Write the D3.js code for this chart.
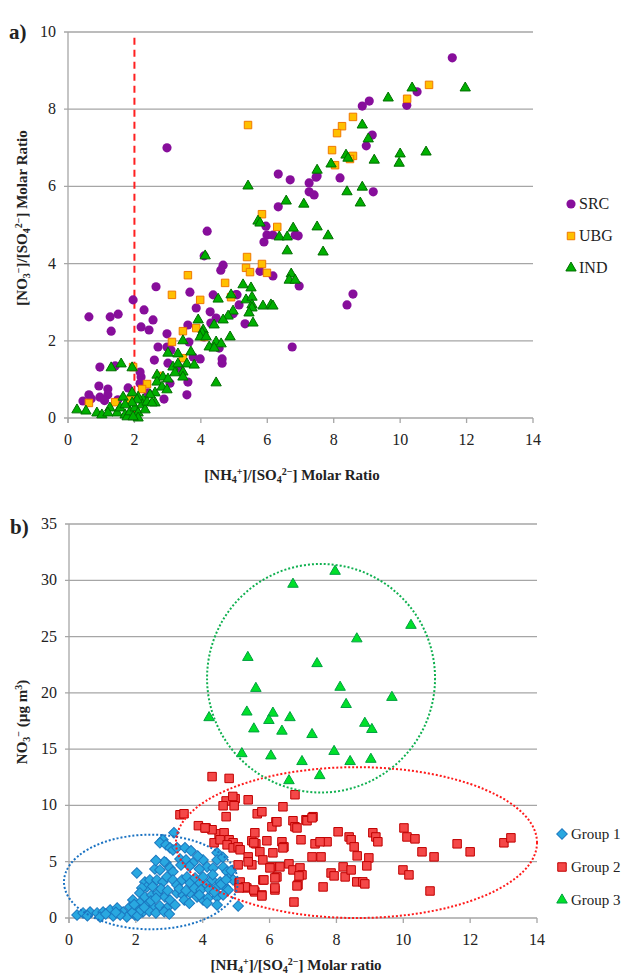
<!DOCTYPE html>
<html>
<head>
<meta charset="utf-8">
<script src="https://cdn.jsdelivr.net/npm/d3@7"></script>
<style>
  body { margin: 0; background: #fff; }
  svg text { font-family: "Liberation Serif", "DejaVu Serif", "Times New Roman", serif; fill: #222; }
</style>
</head>
<body>
<svg id="chart" width="623" height="978" font-family="Liberation Serif, DejaVu Serif, serif"></svg>
<script>
// ---- panel a data: [NH4+]/[SO4 2-] vs [NO3-]/[SO4 2-]
var srcPts = [[2.98,7.0],[4.19,4.84],[6.33,6.32],[6.69,6.17],[7.26,6.09],[7.26,5.86],[7.41,5.78],[6.33,5.47],[5.96,4.97],[6.84,4.74],[5.99,4.74],[6.17,4.74],[7.5,6.27],[11.57,9.33],[10.51,8.45],[10.2,8.1],[8.86,8.08],[9.07,8.21],[9.16,7.33],[8.98,7.05],[7.47,6.24],[8.19,6.22],[9.19,5.86],[5.9,4.56],[6.93,4.72],[6.17,3.68],[6.96,3.42],[8.58,3.21],[8.4,2.93],[6.75,1.84],[5.78,3.8],[4.1,4.2],[4.67,3.96],[4.6,3.83],[2.65,3.4],[3.67,3.26],[1.96,3.06],[4.37,3.19],[4.28,2.75],[3.86,2.85],[4.46,2.59],[4.3,2.46],[5.15,2.93],[5.33,2.44],[5.09,3.19],[0.63,2.62],[1.27,2.62],[1.51,2.69],[1.3,2.25],[2.29,2.8],[2.2,2.36],[2.44,2.28],[2.56,2.54],[2.98,2.18],[2.71,1.84],[2.98,1.84],[3.61,2.41],[3.64,1.97],[3.1,1.76],[3.01,1.42],[3.98,1.53],[3.77,1.58],[4.64,1.53],[4.64,1.42],[4.1,2.1],[4.55,1.81],[0.96,1.32],[1.42,1.35],[0.93,0.83],[1.2,0.75],[0.96,0.54],[0.63,0.6],[0.45,0.44],[1.81,0.78],[2.2,1.06],[2.17,0.9],[3.61,0.93],[3.58,0.6],[2.89,0.49],[3.07,0.9],[2.17,1.19],[1.2,0.6],[1.5,0.47],[2.41,0.65],[5.06,3.2],[4.97,2.7],[3.35,1.3],[2.6,1.5],[1.1,0.45],[0.7,0.5]];
var ubgPts = [[5.42,7.59],[5.84,5.28],[6.3,4.95],[10.87,8.63],[10.21,8.27],[8.58,7.8],[8.25,7.56],[8.1,7.38],[7.95,6.94],[8.58,6.79],[8.49,6.71],[8.04,6.55],[5.84,3.99],[5.99,3.76],[5.39,4.17],[5.36,3.89],[5.48,3.78],[3.61,3.7],[4.73,3.5],[4.91,3.13],[3.13,3.19],[3.98,3.06],[3.46,2.25],[3.86,2.33],[3.13,1.97],[4.1,2.1],[3.46,1.55],[1.96,1.32],[2.38,0.88],[2.23,0.75],[2.74,1.09],[0.63,0.39],[1.42,0.41],[1.87,0.47]];
var indPts = [[5.42,6.01],[6.57,5.62],[7.1,5.54],[5.72,5.1],[6.78,4.92],[7.5,4.95],[7.5,6.42],[6.36,4.69],[6.6,4.69],[10.36,8.55],[9.64,8.29],[11.96,8.55],[8.86,7.59],[9.04,7.23],[8.37,6.81],[8.43,6.73],[7.92,6.58],[9.22,6.68],[10.0,6.84],[9.97,6.6],[10.78,6.89],[8.4,5.86],[8.86,5.98],[8.8,5.57],[7.83,4.72],[6.6,4.33],[7.68,4.3],[6.72,3.73],[6.66,3.57],[6.84,3.57],[5.87,2.9],[6.11,2.93],[6.17,2.9],[5.78,5.05],[4.13,4.2],[5.27,3.45],[5.51,3.37],[4.91,3.19],[4.52,3.08],[5.36,3.06],[5.54,3.13],[5.54,2.93],[5.54,2.85],[4.97,2.77],[4.82,2.64],[4.67,2.54],[5.45,2.72],[5.57,2.46],[4.4,2.41],[3.92,2.54],[4.07,2.28],[4.04,2.2],[3.98,2.1],[4.16,2.1],[4.88,2.1],[4.46,1.97],[4.61,1.92],[4.25,1.84],[4.4,1.81],[3.46,2.0],[3.01,1.68],[3.31,1.66],[3.7,1.71],[3.16,1.32],[3.31,1.4],[3.58,1.4],[3.8,1.37],[3.46,1.19],[3.22,1.17],[3.46,1.06],[2.68,1.11],[2.86,1.06],[3.01,1.01],[2.68,0.93],[2.83,0.8],[2.98,0.73],[2.62,0.65],[2.47,0.6],[2.62,0.39],[2.26,0.47],[2.11,0.54],[1.93,0.65],[1.66,0.54],[1.6,1.4],[1.3,1.3],[1.93,1.3],[4.46,0.91],[0.27,0.21],[0.54,0.18],[0.87,0.13],[1.02,0.08],[1.26,0.26],[1.2,0.13],[1.48,0.13],[1.57,0.26],[1.72,0.08],[1.78,0.03],[1.87,0.16],[2.02,0.26],[2.11,0.13],[2.23,0.34],[2.32,0.21],[2.38,0.41],[2.53,0.39],[2.08,0.47],[1.93,0.39],[1.72,0.34],[2.11,0.0],[1.96,0.03]];
var seriesA = ["SRC", "UBG", "IND"];
var xTicksA = [0, 2, 4, 6, 8, 10, 12, 14];
var yTicksA = [0, 2, 4, 6, 8, 10];
var thresholdX = 2;

// ---- panel b data: [NH4+]/[SO4 2-] vs NO3- (ug m-3)
var group1 = [[3.14,7.57],[2.81,6.95],[2.72,6.68],[2.9,6.5],[3.02,6.23],[3.11,6.05],[3.23,6.23],[3.47,6.23],[3.65,5.97],[3.32,5.25],[3.5,5.16],[3.71,4.9],[4.01,5.16],[4.13,4.54],[4.43,5.79],[4.43,5.16],[4.31,4.45],[4.61,4.54],[4.73,4.1],[4.82,3.65],[4.91,3.38],[5.06,1.07],[2.03,4.0],[2.57,4.36],[2.72,4.27],[2.9,4.9],[3.02,4.45],[3.11,4.1],[2.27,3.2],[2.33,2.76],[2.18,2.67],[2.42,3.38],[2.63,3.38],[2.81,3.2],[2.93,3.65],[3.11,3.38],[3.23,2.94],[3.38,3.38],[3.53,3.65],[3.62,3.12],[3.77,3.56],[3.92,3.12],[4.01,3.65],[4.13,2.94],[4.28,3.38],[4.43,2.76],[4.52,3.2],[4.67,2.76],[4.76,2.49],[3.23,2.23],[3.41,2.05],[3.62,2.23],[3.83,1.87],[4.01,1.6],[4.16,1.78],[4.43,1.87],[4.61,2.05],[4.13,1.34],[4.43,1.16],[2.12,2.23],[2.27,1.87],[2.48,2.05],[2.66,2.23],[2.87,1.87],[3.02,1.6],[3.17,1.16],[1.91,1.6],[2.12,1.34],[2.33,1.16],[2.51,0.98],[2.72,1.07],[2.93,0.89],[0.24,0.27],[0.42,0.45],[0.63,0.53],[0.84,0.45],[1.02,0.53],[1.23,0.71],[1.44,0.89],[1.62,0.53],[1.82,0.98],[2.03,0.89],[2.21,0.53],[0.93,0.09],[1.32,0.18],[1.73,0.09],[1.97,0.27],[1.53,0.27],[0.55,0.2],[1.1,0.35],[1.4,0.5],[1.9,0.5],[2.05,0.2],[2.15,0.7],[2.4,0.6],[2.6,0.45],[2.85,0.55],[3.0,0.35],[2.25,0.95],[1.95,1.2],[2.45,1.5],[2.6,1.75],[2.75,2.6],[2.95,2.45],[3.3,2.6],[3.5,2.45],[3.75,2.65],[3.95,2.5],[4.2,2.55],[4.35,2.3],[4.55,3.0],[4.7,3.4],[3.45,1.6],[3.6,1.3],[3.9,2.05],[2.5,2.8],[4.85,4.2],[4.3,3.85],[3.9,4.35],[3.6,4.6],[3.35,4.7],[2.85,5.0],[4.6,5.4],[3.85,5.5],[2.6,5.1]];
var group2 = [[4.28,12.56],[4.79,12.4],[6.76,10.95],[4.7,10.4],[4.97,10.6],[4.61,9.97],[4.94,9.97],[5.36,10.5],[4.9,10.8],[4.7,9.0],[5.63,9.26],[5.77,9.44],[6.4,9.88],[3.32,9.17],[3.44,9.26],[3.87,8.2],[4.1,8.0],[6.19,8.55],[6.7,8.64],[6.76,8.1],[7.09,8.73],[7.3,9.0],[4.49,7.48],[4.64,7.57],[4.28,7.84],[4.34,6.68],[4.79,6.95],[4.91,6.68],[4.52,6.95],[4.73,6.5],[4.91,6.23],[5.06,6.32],[5.12,6.06],[5.47,6.86],[5.59,6.59],[5.56,7.57],[5.92,6.86],[5.71,5.88],[5.36,5.43],[6.1,5.79],[6.37,6.77],[6.43,6.32],[6.4,6.23],[6.94,6.95],[7.36,6.59],[7.72,6.77],[7.51,6.77],[7.27,5.43],[7.54,5.43],[5.06,4.72],[5.47,4.72],[5.8,5.16],[5.36,4.99],[6.07,4.54],[6.31,4.54],[6.01,4.45],[6.58,4.81],[6.7,4.27],[6.91,4.45],[6.97,3.83],[6.88,3.74],[6.85,2.94],[6.82,2.85],[6.22,3.65],[6.16,3.56],[5.8,3.38],[5.83,3.38],[6.16,2.49],[6.16,2.67],[5.09,3.12],[5.12,3.2],[5.32,2.67],[5.27,2.76],[5.09,2.67],[5.56,2.32],[5.53,2.49],[5.77,2.05],[5.77,1.96],[6.73,1.42],[6.07,8.1],[6.22,8.55],[6.82,8.0],[5.53,6.68],[7.12,8.64],[7.27,8.9],[8.05,7.66],[8.38,7.2],[8.44,6.95],[8.53,6.32],[8.62,5.52],[9.09,7.57],[9.18,7.2],[9.24,6.77],[8.97,5.34],[8.91,4.63],[7.6,2.76],[7.84,4.0],[7.93,3.74],[8.2,4.54],[8.26,3.65],[8.44,4.27],[8.61,3.21],[8.79,3.21],[8.85,3.03],[10.02,8.0],[10.11,7.2],[10.35,7.03],[10.56,5.88],[10.92,5.43],[9.99,4.27],[10.17,3.83],[10.8,2.4],[11.61,6.59],[12.0,5.88],[13.01,6.68],[13.22,7.12],[4.07,8.0]];
var group3 = [[7.96,30.8],[6.7,29.65],[10.23,26.0],[8.61,24.8],[5.35,23.15],[7.42,22.6],[5.59,20.4],[8.11,20.5],[9.66,19.6],[8.29,18.97],[4.19,17.8],[5.32,18.3],[6.1,18.2],[5.98,17.55],[6.61,17.8],[5.53,16.8],[6.37,16.6],[7.27,16.3],[8.85,17.3],[9.06,16.75],[5.17,14.6],[6.04,14.4],[7.93,14.8],[6.97,13.9],[8.41,13.9],[9.03,14.1],[6.58,12.2],[7.5,12.65]];
var seriesB = ["Group 1", "Group 2", "Group 3"];
var xTicksB = [0, 2, 4, 6, 8, 10, 12, 14];
var yTicksB = [0, 5, 10, 15, 20, 25, 30, 35];
// cluster ellipses (data units): centre x, centre y, radius x, radius y
var ellCx = [2.45, 8.6, 7.54];
var ellCy = [3.2, 6.7, 21.3];
var ellRx = [2.6, 5.4, 3.41];
var ellRy = [4.2, 6.7, 10.15];

var svg = d3.select("#chart");
var gridCol = "#a6a6a6";
var serif = "'Liberation Serif', 'DejaVu Serif', serif";

// ===== helpers
function drawFrame(x, y, xTicks, yTicks) {
    var x0 = x.range()[0], x1 = x.range()[1];
    var y0 = y.range()[0], y1 = y.range()[1];
    var g = svg.append("g");
    g.selectAll("line.grid").data(yTicks.filter(function(d) { return d > 0; }))
        .enter().append("line")
        .attr("x1", x0 - 4).attr("x2", x1)
        .attr("y1", function(d) { return y(d); }).attr("y2", function(d) { return y(d); })
        .style("stroke", gridCol).style("stroke-width", 1.3);
    // axis lines
    g.append("line").attr("x1", x0).attr("x2", x0).attr("y1", y1).attr("y2", y0 + 5)
        .style("stroke", gridCol).style("stroke-width", 1.3);
    g.append("line").attr("x1", x0 - 4).attr("x2", x1).attr("y1", y0).attr("y2", y0)
        .style("stroke", gridCol).style("stroke-width", 1.3);
    g.selectAll("line.xt").data(xTicks).enter().append("line")
        .attr("x1", function(d) { return x(d); }).attr("x2", function(d) { return x(d); })
        .attr("y1", y0).attr("y2", y0 + 5)
        .style("stroke", gridCol).style("stroke-width", 1.3);
    g.selectAll("text.xl").data(xTicks).enter().append("text")
        .attr("x", function(d) { return x(d); })
        .attr("y", y0 + 27)
        .attr("text-anchor", "middle")
        .style("font-family", serif)
        .style("font-size", "16px")
        .text(function(d) { return d; });
    g.selectAll("text.yl").data(yTicks).enter().append("text")
        .attr("x", x0 - 12)
        .attr("y", function(d) { return y(d) + 5; })
        .attr("text-anchor", "end")
        .style("font-family", serif)
        .style("font-size", "16px")
        .text(function(d) { return d; });
}

// parts: [text, "sub"|"sup"|null] ; shifts done with dy so nothing drops too far
function richText(sel, parts) {
    var shift = 0;
    parts.forEach(function(p) {
        var want = p[1] == "sub" ? 3 : (p[1] == "sup" ? -5 : 0);
        var t = sel.append("tspan").text(p[0]).attr("dy", want - shift);
        shift = want;
        if (p[1]) t.style("font-size", "10px");
    });
}

var symCircle = d3.symbol().type(d3.symbolCircle).size(66)();
var symSquare = d3.symbol().type(d3.symbolSquare).size(56)();
var symTri = d3.symbol().type(d3.symbolTriangle).size(46)();
var symSquareB = d3.symbol().type(d3.symbolSquare).size(72)();
var symDiamond = d3.symbol().type(d3.symbolSquare).size(56)();
var symTriB = d3.symbol().type(d3.symbolTriangle).size(48)();

function drawPoints(pts, x, y, path, fill, stroke, rot) {
    svg.append("g").selectAll("path").data(pts).enter().append("path")
        .attr("d", path)
        .attr("transform", function(d) {
            return "translate(" + x(d[0]) + "," + y(d[1]) + ")" + (rot ? " rotate(" + rot + ")" : "");
        })
        .style("fill", fill)
        .style("stroke", stroke || "none")
        .style("stroke-width", 1);
}

// ===== panel a
var xA = d3.scaleLinear().domain([0, 14]).range([68, 533]);
var yA = d3.scaleLinear().domain([0, 10]).range([418, 32]);
drawFrame(xA, yA, xTicksA, yTicksA);

svg.append("line")
    .attr("x1", xA(thresholdX)).attr("x2", xA(thresholdX))
    .attr("y1", yA(9.85)).attr("y2", yA(0))
    .style("stroke", "#ff2020").style("stroke-width", 2)
    .style("stroke-dasharray", "7,5");

var colA = {
    SRC: { fill: "#870e9b", stroke: null, path: symCircle },
    UBG: { fill: "#ffc000", stroke: "#f07800", path: symSquare },
    IND: { fill: "#00b000", stroke: "#006e00", path: symTri }
};
drawPoints(srcPts, xA, yA, colA.SRC.path, colA.SRC.fill, colA.SRC.stroke);
drawPoints(ubgPts, xA, yA, colA.UBG.path, colA.UBG.fill, colA.UBG.stroke);
drawPoints(indPts, xA, yA, colA.IND.path, colA.IND.fill, colA.IND.stroke);

var legA = svg.append("g").selectAll("g").data(seriesA).enter().append("g")
    .attr("transform", function(d, i) { return "translate(571," + (204 + i * 32) + ")"; });
legA.append("path").attr("d", function(d) { return colA[d].path; })
    .style("fill", function(d) { return colA[d].fill; })
    .style("stroke", function(d) { return colA[d].stroke || "none"; });
legA.append("text").attr("x", 8).attr("y", 5)
    .style("font-family", serif).style("font-size", "16px")
    .text(function(d) { return d; });

svg.append("text").attr("x", 9).attr("y", 39)
    .style("font-family", serif)
    .style("font-size", "21px").style("font-weight", "bold").text("a)");

var xtA = svg.append("text").attr("x", 292).attr("y", 480).attr("text-anchor", "middle")
    .style("font-family", serif)
    .style("font-size", "15px").style("font-weight", "bold");
richText(xtA, [["[NH"], ["4", "sub"], ["+", "sup"], ["]/[SO"], ["4", "sub"], ["2\u2212", "sup"], ["] Molar Ratio", null]]);

var ytA = svg.append("text").attr("transform", "translate(27,218) rotate(-90)")
    .attr("text-anchor", "middle")
    .style("font-family", serif)
    .style("font-size", "15px").style("font-weight", "bold");
richText(ytA, [["[NO"], ["3", "sub"], ["\u2212", "sup"], ["]/[SO"], ["4", "sub"], ["2\u2212", "sup"], ["] Molar Ratio", null]]);

// ===== panel b
var xB = d3.scaleLinear().domain([0, 14]).range([69, 537]);
var yB = d3.scaleLinear().domain([0, 35]).range([918, 524]);
drawFrame(xB, yB, xTicksB, yTicksB);

var colB = {
    "Group 1": { fill: "#29a8e0", stroke: "#1b78c0", path: symDiamond, rot: 45 },
    "Group 2": { fill: "#f44848", stroke: "#c00000", path: symSquareB, rot: 0 },
    "Group 3": { fill: "#00e02a", stroke: "#00a040", path: symTriB, rot: 0 }
};
drawPoints(group1, xB, yB, colB["Group 1"].path, colB["Group 1"].fill, colB["Group 1"].stroke, 45);
drawPoints(group2, xB, yB, colB["Group 2"].path, colB["Group 2"].fill, colB["Group 2"].stroke);
drawPoints(group3, xB, yB, colB["Group 3"].path, colB["Group 3"].fill, colB["Group 3"].stroke);

var ellCol = ["#1a72c2", "#ff1a1a", "#10b050"];
svg.append("g").selectAll("ellipse").data(seriesB).enter().append("ellipse")
    .attr("cx", function(d, i) { return xB(ellCx[i]); })
    .attr("cy", function(d, i) { return yB(ellCy[i]); })
    .attr("rx", function(d, i) { return xB(ellRx[i]) - xB(0); })
    .attr("ry", function(d, i) { return yB(0) - yB(ellRy[i]); })
    .style("fill", "none")
    .style("stroke", function(d, i) { return ellCol[i]; })
    .style("stroke-width", 2)
    .style("stroke-dasharray", "2,2");

var legB = svg.append("g").selectAll("g").data(seriesB).enter().append("g")
    .attr("transform", function(d, i) { return "translate(562," + (834 + i * 33) + ")"; });
legB.append("path").attr("d", function(d) { return colB[d].path; })
    .attr("transform", function(d) { return "rotate(" + colB[d].rot + ")"; })
    .style("fill", function(d) { return colB[d].fill; })
    .style("stroke", function(d) { return colB[d].stroke; });
legB.append("text").attr("x", 9).attr("y", 5)
    .style("font-family", serif).style("font-size", "15px")
    .text(function(d) { return d; });

svg.append("text").attr("x", 10).attr("y", 534)
    .style("font-family", serif)
    .style("font-size", "21px").style("font-weight", "bold").text("b)");

var xtB = svg.append("text").attr("x", 296).attr("y", 970).attr("text-anchor", "middle")
    .style("font-family", serif)
    .style("font-size", "15px").style("font-weight", "bold");
richText(xtB, [["[NH"], ["4", "sub"], ["+", "sup"], ["]/[SO"], ["4", "sub"], ["2\u2212", "sup"], ["] Molar ratio", null]]);

var ytB = svg.append("text").attr("transform", "translate(27,722) rotate(-90)")
    .attr("text-anchor", "middle")
    .style("font-family", serif)
    .style("font-size", "15px").style("font-weight", "bold");
richText(ytB, [["NO"], ["3", "sub"], ["\u2212", "sup"], [" (\u00b5g m", null], ["3", "sup"], [")", null]]);
</script>
</body>
</html>
